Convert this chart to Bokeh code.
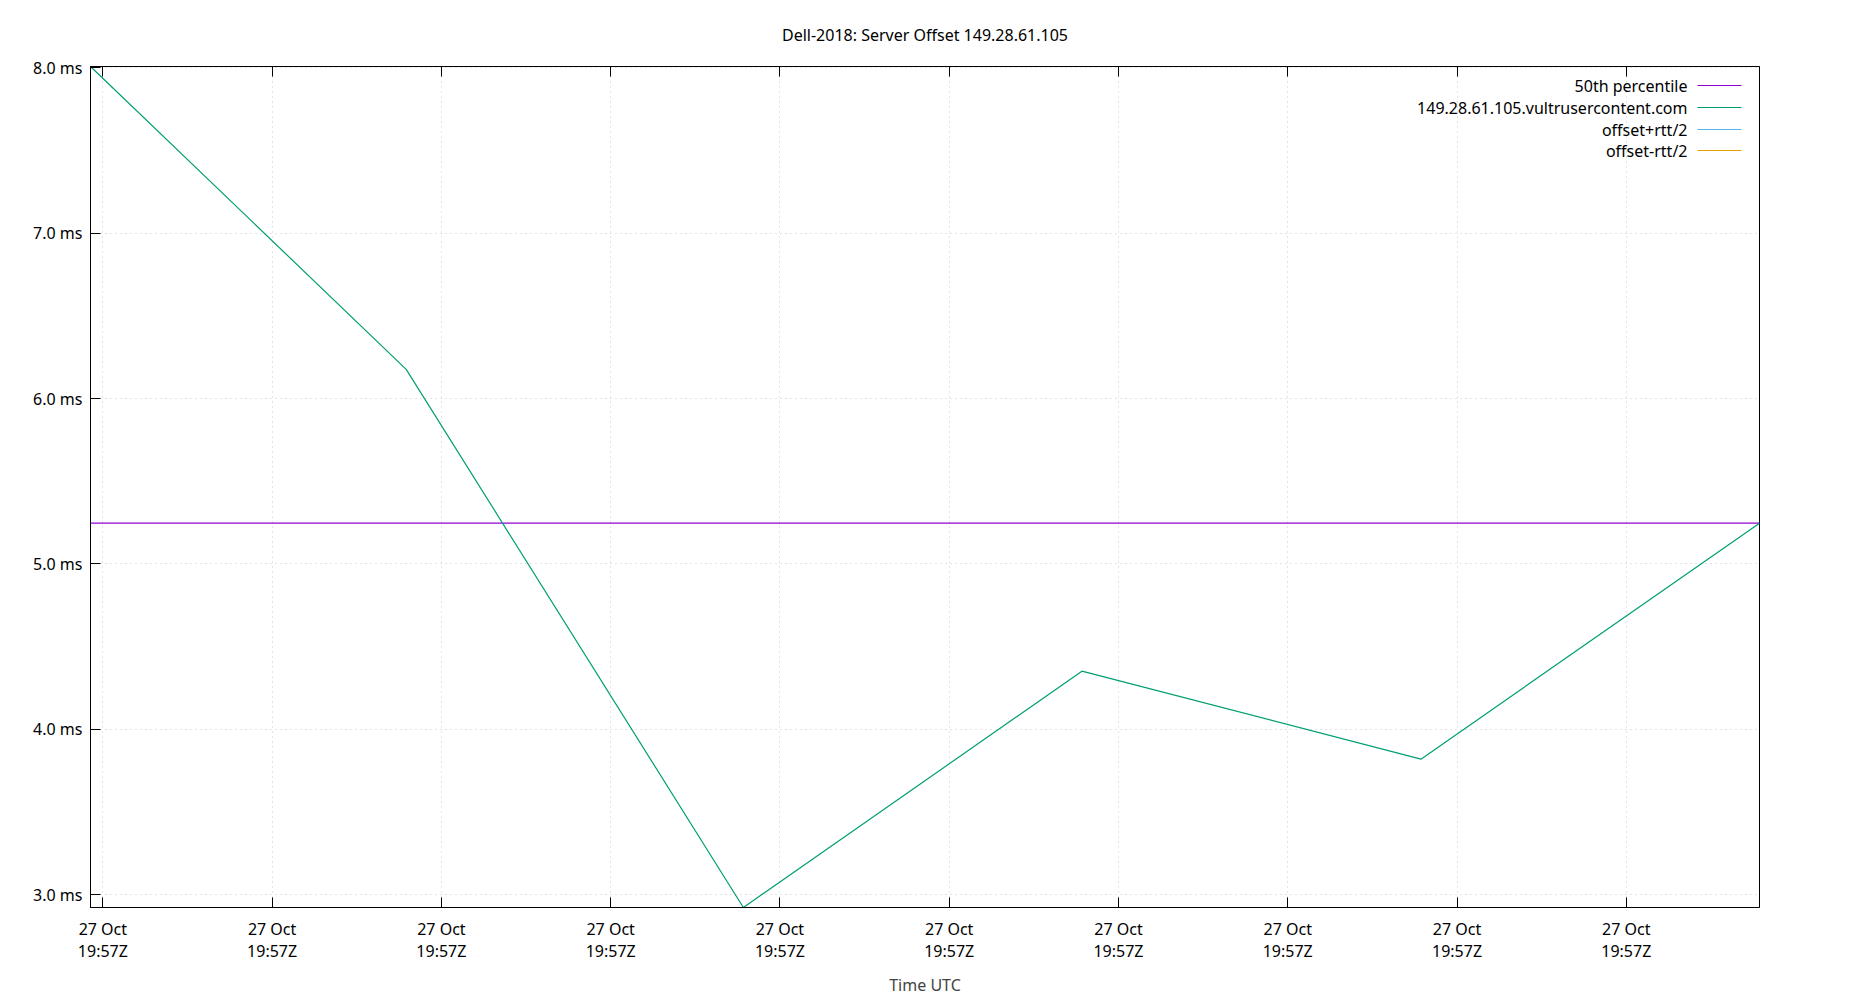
import pandas as pd
from bokeh.plotting import figure
from bokeh.models import (Range1d, FixedTicker, DatetimeTickFormatter, PrintfTickFormatter,
                          DatetimeAxis, Label, BoxAnnotation)
from bokeh.embed import file_html
from bokeh.resources import INLINE

# samples (offset in ms)
sample_times = ["2023-10-27 19:57:19.927", "2023-10-27 19:57:21.792", "2023-10-27 19:57:23.784",
                "2023-10-27 19:57:25.784", "2023-10-27 19:57:27.787", "2023-10-27 19:57:29.787"]
offsets_ms = [8.008, 6.177, 2.923, 4.352, 3.820, 5.247]
p50_ms = 5.247

x_tick_times = ["2023-10-27 19:57:20", "2023-10-27 19:57:21", "2023-10-27 19:57:22",
                "2023-10-27 19:57:23", "2023-10-27 19:57:24", "2023-10-27 19:57:25",
                "2023-10-27 19:57:26", "2023-10-27 19:57:27", "2023-10-27 19:57:28",
                "2023-10-27 19:57:29"]
y_ticks = [3.0, 4.0, 5.0, 6.0, 7.0, 8.0]

legend_labels = ["50th percentile", "149.28.61.105.vultrusercontent.com", "offset+rtt/2", "offset-rtt/2"]
legend_colors = ["#9400d3", "#009e73", "#56b4e9", "#e69f00"]

FONT = "Noto Sans"
FS = "16px"

t = pd.to_datetime(sample_times)
ticks_ms = [pd.Timestamp(s).value / 1e6 for s in x_tick_times]

W, H = 1850, 1000
LEFT, RIGHT, TOP, BOTTOM = 90, 91, 65, 93
p = figure(width=W, height=H, x_axis_type="datetime", output_backend="svg",
           toolbar_location=None, tools="",
           x_range=Range1d(t[0], t[-1]), y_range=Range1d(min(offsets_ms), max(offsets_ms)),
           min_border_left=LEFT, min_border_right=RIGHT, min_border_top=TOP, min_border_bottom=BOTTOM)

p.title.text = "Dell-2018: Server Offset 149.28.61.105"
p.title.align = "center"
p.title.text_font = FONT
p.title.text_font_size = FS
p.title.text_font_style = "normal"
p.title.text_color = "black"
p.title.standoff = 42

p.outline_line_color = "black"
p.outline_line_width = 1
p.outline_line_alpha = 1

# median line and the server offset
p.line([t[0], t[-1]], [p50_ms, p50_ms], line_color=legend_colors[0], line_width=1.2)
p.line(t, offsets_ms, line_color=legend_colors[1], line_width=1.2)

xa = p.xaxis[0]
xa.ticker = FixedTicker(ticks=ticks_ms)
fmt = "%d %b\n%H:%MZ"
xa.formatter = DatetimeTickFormatter(milliseconds=fmt, seconds=fmt, minsec=fmt, minutes=fmt,
                                     hourmin=fmt, hours=fmt)
xa.axis_label = "Time UTC"
xa.axis_label_text_font = FONT
xa.axis_label_text_font_size = FS
xa.axis_label_text_font_style = "normal"
xa.axis_label_standoff = 9
xa.major_label_text_line_height = 1.0

ya = p.yaxis[0]
ya.ticker = FixedTicker(ticks=y_ticks)
ya.formatter = PrintfTickFormatter(format="%.1f ms")

for ax in (xa, ya):
    ax.major_tick_in = 10
    ax.major_tick_out = 0
    ax.minor_tick_in = 0
    ax.minor_tick_out = 0
    ax.major_label_text_font = FONT
    ax.major_label_text_font_size = FS
    ax.major_label_text_color = "black"
    ax.axis_line_color = "black"
    ax.major_tick_line_color = "black"
xa.major_label_standoff = 10
ya.major_label_standoff = 8

# mirrored ticks on the top border
top = DatetimeAxis(ticker=FixedTicker(ticks=ticks_ms), major_tick_in=10, major_tick_out=0,
                   minor_tick_in=0, minor_tick_out=0, major_label_text_color=None,
                   major_label_standoff=0, axis_line_color="black")
p.add_layout(top, "above")

for g in (p.xgrid[0], p.ygrid[0]):
    g.grid_line_color = "#c8c8c8"
    g.grid_line_dash = "1 4"
    g.grid_line_width = 1
p.xgrid[0].ticker = xa.ticker
p.ygrid[0].ticker = ya.ticker

# gnuplot-style key: text right-aligned, sample line on the right (frame-relative px)
frame_h = H - TOP - BOTTOM
row_y = [frame_h - 20, frame_h - 42, frame_h - 64, frame_h - 85]
for i, (lab, col) in enumerate(zip(legend_labels, legend_colors)):
    p.add_layout(Label(x=1597, y=row_y[i], x_units="screen", y_units="screen", text=lab,
                       text_align="right", text_baseline="middle", text_font=FONT,
                       text_font_size=FS, text_color="black"))
    p.add_layout(BoxAnnotation(left=1607, right=1651, bottom=row_y[i] - 0.6, top=row_y[i] + 0.6,
                               left_units="screen", right_units="screen",
                               bottom_units="screen", top_units="screen",
                               fill_color=col, fill_alpha=1, line_color=None))

open("out.html", "w").write(file_html(p, INLINE))
